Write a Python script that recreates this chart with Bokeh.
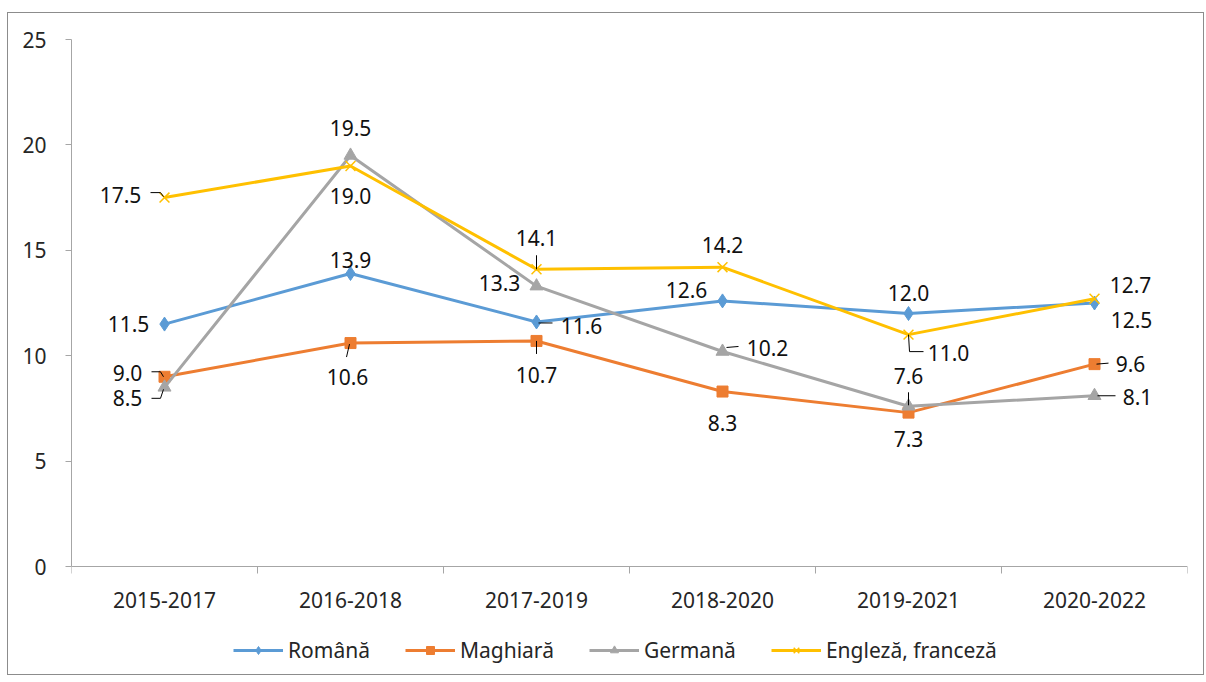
from bokeh.plotting import figure
from bokeh.models import (Range1d, FixedTicker, Legend, LegendItem,
                          ColumnDataSource)
from bokeh.core.properties import value
from bokeh.embed import file_html
from bokeh.resources import INLINE

# ---------------- data ----------------
categories = ["2015-2017", "2016-2018", "2017-2019", "2018-2020", "2019-2021", "2020-2022"]
romana = [11.5, 13.9, 11.6, 12.6, 12.0, 12.5]
maghiara = [9.0, 10.6, 10.7, 8.3, 7.3, 9.6]
germana = [8.5, 19.5, 13.3, 10.2, 7.6, 8.1]
engleza = [17.5, 19.0, 14.1, 14.2, 11.0, 12.7]
series_names = ["Română", "Maghiară", "Germană", "Engleză, franceză"]
y_ticks = [0, 5, 10, 15, 20, 25]

# ---------------- layout / style ----------------
PLOT_W, PLOT_H = 1116, 527      # pixel size of the value area (0..25)
BELOW_PX = 108                  # space below y=0 kept inside the frame for labels/legend
BL, BR, BT = 63, 16, 26
Y_MIN, Y_MAX = 0, 25
PX_X = PLOT_W / len(categories)
PX_Y = PLOT_H / (Y_MAX - Y_MIN)

FONT = "Noto Sans"
AXIS_COLOR = "#a6a6a6"
TEXT_COLOR = "#262626"
colors = ["#5b9bd5", "#ed7d31", "#a5a5a5", "#ffc000"]
markers = ["diamond", "square", "triangle", "x"]
marker_sizes = [14, 11, 13, 14]

# label offsets (pixels, y down) per series and category
label_offsets = [
    [(-36, 0), (0, -13), (45, 4), (-36, -11), (0, -21), (37, 17)],     # Română
    [(-37, -4), (-3, 34), (0, 34), (0, 31), (0, 26), (36, 0)],        # Maghiară
    [(-37, 11), (0, -27), (-37, -3), (45, -3), (0, -30), (43, 1)],    # Germană
    [(-44, -3), (0, 30), (0, -31), (0, -22), (40, 18), (36, -14)],    # Engleză
]
# leader lines (pixel offsets relative to point)
leaders = [
    {2: [(2, 1), (16, 1)]},
    {0: [(-13, -5), (-4, -5), (-1, 0)], 1: [(-4, 14), (-1, 1)],
     2: [(0, 0), (0, 13)], 5: [(2, 0), (14, -1)]},
    {0: [(-13, 11), (-4, 11), (-1, 2)], 3: [(4, -4), (16, -5)],
     4: [(0, -14), (0, -1)], 5: [(3, 0), (21, 0)]},
    {0: [(-14, -5), (-4, -5), (-1, -1)], 2: [(0, -14), (0, 0)],
     4: [(0, 0), (1, 17), (15, 17)]},
]

x = [i + 0.5 for i in range(len(categories))]
all_series = [romana, maghiara, germana, engleza]

p = figure(frame_width=PLOT_W, frame_height=PLOT_H + BELOW_PX,
           x_range=Range1d(0, len(categories)),
           y_range=Range1d(Y_MIN - BELOW_PX / PX_Y, Y_MAX), output_backend="svg",
           toolbar_location=None, min_border_left=BL, min_border_right=BR,
           min_border_top=BT, min_border_bottom=0)
p.margin = (12, 0, 0, 7)
p.styles = {"border": "1px solid #8c8c8c"}
p.outline_line_color = None
p.grid.visible = False
p.background_fill_color = "white"
p.border_fill_color = "white"

# x axis (placed at y = 0 inside the frame)
p.xaxis.fixed_location = Y_MIN
p.xaxis.ticker = FixedTicker(ticks=x, minor_ticks=list(range(len(categories) + 1)))
p.xaxis.major_label_overrides = {xi: c for xi, c in zip(x, categories)}
p.xaxis.major_tick_out = 0
p.xaxis.major_tick_in = 0
p.xaxis.minor_tick_out = 7
p.xaxis.minor_tick_in = 0
p.xaxis.minor_tick_line_color = AXIS_COLOR
p.xaxis.axis_line_color = AXIS_COLOR
p.xaxis.major_label_standoff = 18
# y axis
p.yaxis.bounds = (Y_MIN, Y_MAX)
p.yaxis.ticker = FixedTicker(ticks=y_ticks)
p.yaxis.major_tick_out = 6
p.yaxis.major_tick_in = 0
p.yaxis.minor_tick_out = 0
p.yaxis.minor_tick_in = 0
p.yaxis.major_tick_line_color = AXIS_COLOR
p.yaxis.axis_line_color = AXIS_COLOR
p.yaxis.major_label_standoff = 19
for ax in (p.xaxis, p.yaxis):
    ax.major_label_text_font = FONT
    ax.major_label_text_font_size = "21px"
    ax.major_label_text_color = TEXT_COLOR

items = []
for s, vals in enumerate(all_series):
    src = ColumnDataSource(dict(x=x, y=vals))
    lr = p.line("x", "y", source=src, line_color=colors[s], line_width=3)
    if markers[s] == "x":
        mr = p.scatter("x", "y", source=src, marker="x", size=marker_sizes[s],
                       line_color=colors[s], line_width=1.5)
    else:
        mr = p.scatter("x", "y", source=src, marker=markers[s], size=marker_sizes[s],
                       fill_color=colors[s], line_color=colors[s])
    items.append(LegendItem(label=series_names[s], renderers=[lr, mr]))

    # leader lines
    xs, ys = [], []
    for i, pts in leaders[s].items():
        xs.append([x[i] + dx / PX_X for dx, dy in pts])
        ys.append([vals[i] - dy / PX_Y for dx, dy in pts])
    if xs:
        p.multi_line(xs=xs, ys=ys, line_color="#000000", line_width=1)

    lsrc = ColumnDataSource(dict(
        x=x, y=vals, t=[f"{v:.1f}" for v in vals],
        dx=[o[0] for o in label_offsets[s]], dy=[o[1] for o in label_offsets[s]]))
    p.text("x", "y", text="t", x_offset="dx", y_offset="dy", source=lsrc,
           text_align="center", text_baseline="middle",
           text_font=value(FONT), text_font_size="21px", text_color="#111111")

legend = Legend(items=items, orientation="horizontal", location=(162, 10),
                glyph_width=50, glyph_height=20, label_standoff=5, spacing=35,
                padding=0, margin=0, border_line_color=None,
                background_fill_alpha=0, label_text_font=FONT,
                label_text_font_size="21px", label_text_color=TEXT_COLOR)
p.add_layout(legend, "center")

open("out.html", "w").write(file_html(p, INLINE))
